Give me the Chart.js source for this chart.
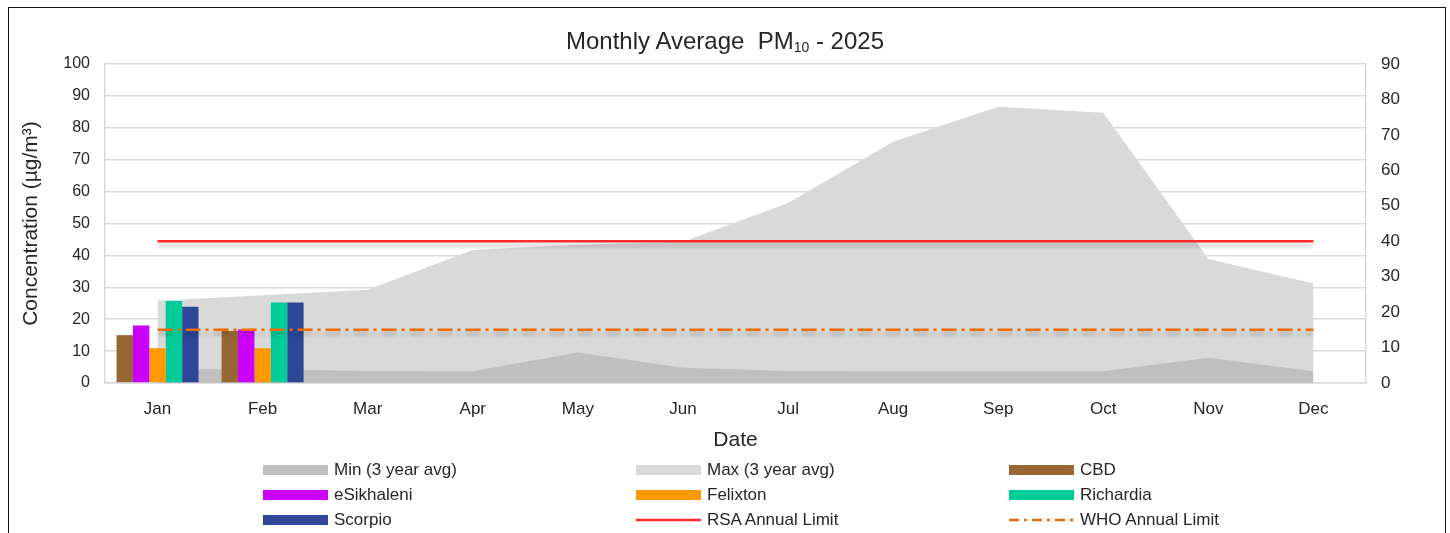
<!DOCTYPE html>
<html>
<head>
<meta charset="utf-8">
<script src="https://cdn.jsdelivr.net/npm/chart.js@4"></script>
<style>
  body { margin: 0; background: #fff; font-family: "Liberation Sans", Arial, sans-serif; }
  #wrap { position: relative; width: 1450px; height: 533px; overflow: hidden; }
  #frame { position: absolute; left: 8px; top: 7px; width: 1436px; height: 600px; border: 1.5px solid #111; }
  canvas { position: absolute; left: 0; top: 0; }
  #title { position: absolute; left: 0; width: 1450px; top: 27px; text-align: center; font-size: 24px; color: #262626; }
  #title sub { font-size: 14px; vertical-align: -3px; }
  #legend { position: absolute; left: 263px; top: 457px; display: grid; grid-template-columns: 373px 373px 373px; grid-auto-rows: 25px; }
  .item { display: flex; align-items: center; font-size: 17px; color: #262626; }
  .sw { width: 65px; height: 10px; margin-right: 6px; }
</style>
</head>
<body>
<div id="wrap">
  <div id="frame"></div>
  <canvas id="pmChart" width="1450" height="533"></canvas>
  <div id="title">Monthly Average&nbsp; PM<sub>10</sub> - 2025</div>
  <div id="legend"></div>
</div>
<script>
// Categories
const months = ["Jan", "Feb", "Mar", "Apr", "May", "Jun", "Jul", "Aug", "Sep", "Oct", "Nov", "Dec"];

// 3 year min / max band (left axis)
const minAvg = [4.3, 4.3, 3.8, 3.7, 9.6, 4.8, 3.8, 3.7, 3.7, 3.7, 7.9, 3.7];
const maxAvg = [25.8, 27.5, 29.2, 41.7, 43.3, 44.3, 56.4, 75.6, 86.6, 84.7, 38.9, 31.2];

// Station monthly averages 2025 (left axis)
const cbd = [15.0, 16.3, null, null, null, null, null, null, null, null, null, null];
const eSikhaleni = [18.0, 16.8, null, null, null, null, null, null, null, null, null, null];
const felixton = [10.9, 10.9, null, null, null, null, null, null, null, null, null, null];
const richardia = [25.7, 25.2, null, null, null, null, null, null, null, null, null, null];
const scorpio = [23.9, 25.2, null, null, null, null, null, null, null, null, null, null];

// Annual limits (right axis)
const rsaLimit = [40, 40, 40, 40, 40, 40, 40, 40, 40, 40, 40, 40];
const whoLimit = [15, 15, 15, 15, 15, 15, 15, 15, 15, 15, 15, 15];

// Axis ticks
const leftTicks = [0, 10, 20, 30, 40, 50, 60, 70, 80, 90, 100];
const rightTicks = [0, 10, 20, 30, 40, 50, 60, 70, 80, 90];

const textColor = "#262626";
const gridColor = "#d9d9d9";

function area(label, data, color, order) {
  return {
    type: "line", label, data, yAxisID: "y",
    backgroundColor: color, borderWidth: 0, pointRadius: 0,
    fill: "origin", tension: 0, order,
  };
}

function bar(label, data, color) {
  return { type: "bar", label, data, yAxisID: "y", backgroundColor: color, borderWidth: 0, order: 3 };
}

function limit(label, data, color, dash) {
  return {
    type: "line", label, data, yAxisID: "y1",
    borderColor: color, backgroundColor: color, borderWidth: 2.5, borderDash: dash,
    pointRadius: 0, fill: false, order: 1, shadow: true,
  };
}

const datasets = [
  area("Min (3 year avg)", minAvg, "#bfbfbf", 4),
  area("Max (3 year avg)", maxAvg, "#d9d9d9", 5),
  bar("CBD", cbd, "#996633"),
  bar("eSikhaleni", eSikhaleni, "#cc00ff"),
  bar("Felixton", felixton, "#ff9900"),
  bar("Richardia", richardia, "#00cc99"),
  bar("Scorpio", scorpio, "#2f4799"),
  limit("RSA Annual Limit", rsaLimit, "#ff2a2a", []),
  limit("WHO Annual Limit", whoLimit, "#f26b00", [15, 5, 3, 5]),
];

// soft drop shadow under the limit lines
const shadowPlugin = {
  id: "shadow",
  beforeDatasetDraw(chart, args) {
    if (!args.meta._dataset.shadow) return;
    const c = chart.ctx;
    c.save();
    c.shadowColor = "rgba(0,0,0,0.25)";
    c.shadowBlur = 4;
    c.shadowOffsetY = 4;
  },
  afterDatasetDraw(chart, args) {
    if (args.meta._dataset.shadow) chart.ctx.restore();
  },
};

const chart = new Chart(document.getElementById("pmChart"), {
  type: "bar",
  data: { labels: months, datasets },
  plugins: [shadowPlugin],
  options: {
    responsive: false,
    animation: false,
    layout: { padding: { top: 64, left: 18, right: 0, bottom: 80 } },
    datasets: { bar: { categoryPercentage: 0.78, barPercentage: 1.0 } },
    plugins: { legend: { display: false }, title: { display: false }, tooltip: { enabled: false } },
    scales: {
      x: {
        offset: true,
        grid: { display: false, drawTicks: false },
        border: { color: "#d6d9e6", width: 1.5 },
        ticks: { color: textColor, font: { family: "Liberation Sans", size: 17 }, padding: 16 },
        title: { display: true, text: "Date", color: textColor, font: { family: "Liberation Sans", size: 21 }, padding: { top: 0, bottom: 0 } },
        afterFit: s => { s.height = 70; },
      },
      y: {
        position: "left", min: 0, max: 100,
        afterBuildTicks: s => { s.ticks = leftTicks.map(v => ({ value: v })); },
        grid: { color: gridColor, lineWidth: 1.5, drawTicks: false },
        border: { color: gridColor, width: 1.5 },
        ticks: { color: textColor, font: { family: "Liberation Sans", size: 16 }, padding: 15 },
        title: { display: true, text: "Concentration (µg/m³)", color: textColor, font: { family: "Liberation Sans", size: 21 }, padding: { top: 1, bottom: 0 } },
        afterFit: s => { s.width = 87; },
      },
      y1: {
        position: "right", min: 0, max: 90,
        afterBuildTicks: s => { s.ticks = rightTicks.map(v => ({ value: v })); },
        grid: { display: false, drawTicks: false },
        border: { color: gridColor, width: 1.5 },
        ticks: { color: textColor, font: { family: "Liberation Sans", size: 17 }, padding: 15 },
        afterFit: s => { s.width = 84; },
      },
    },
  },
});

// HTML legend, 3 columns like the original
const legendEl = document.getElementById("legend");
chart.data.datasets.forEach(ds => {
  const item = document.createElement("div");
  item.className = "item";
  let sw;
  if (ds.type === "line" && ds.yAxisID === "y1") {
    sw = document.createElementNS("http://www.w3.org/2000/svg", "svg");
    sw.setAttribute("width", "65");
    sw.setAttribute("height", "10");
    sw.style.marginRight = "6px";
    const ln = document.createElementNS("http://www.w3.org/2000/svg", "line");
    ln.setAttribute("x1", "0"); ln.setAttribute("x2", "65");
    ln.setAttribute("y1", "5"); ln.setAttribute("y2", "5");
    ln.setAttribute("stroke", ds.borderColor);
    ln.setAttribute("stroke-width", "2.5");
    if (ds.borderDash.length) ln.setAttribute("stroke-dasharray", "10 5 3 5");
    sw.appendChild(ln);
  } else {
    sw = document.createElement("div");
    sw.className = "sw";
    sw.style.background = ds.backgroundColor;
  }
  const txt = document.createElement("span");
  txt.textContent = ds.label;
  item.appendChild(sw);
  item.appendChild(txt);
  legendEl.appendChild(item);
});
</script>
</body>
</html>
